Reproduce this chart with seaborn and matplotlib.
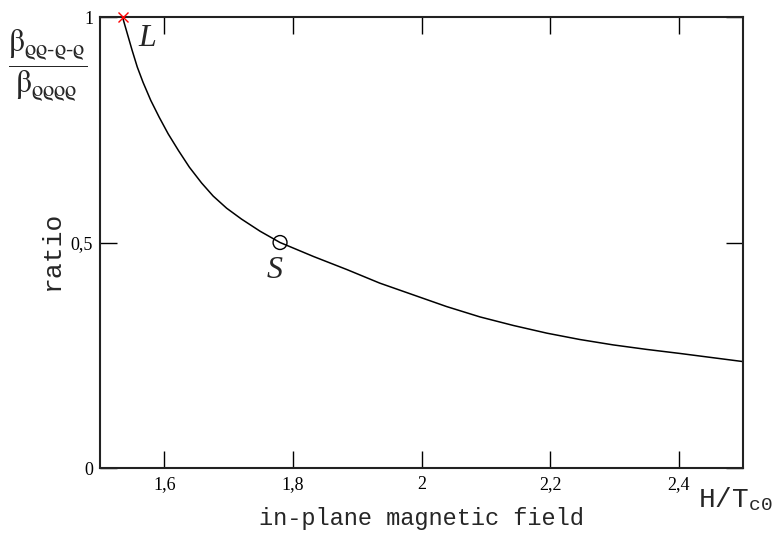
import numpy as np
import pandas as pd
import seaborn as sns
import matplotlib.pyplot as plt
from matplotlib.ticker import FuncFormatter

# values
field = [1.535, 1.5425, 1.550, 1.558, 1.567, 1.579, 1.592, 1.606, 1.622,
         1.639, 1.658, 1.676, 1.697, 1.720, 1.749, 1.780, 1.832, 1.884,
         1.935, 1.987, 2.039, 2.091, 2.143, 2.195, 2.246, 2.298, 2.350,
         2.402, 2.451, 2.500]
ratio = [1.000, 0.963, 0.926, 0.889, 0.855, 0.815, 0.778, 0.741, 0.704,
         0.667, 0.632, 0.603, 0.576, 0.552, 0.525, 0.500, 0.469, 0.440,
         0.410, 0.384, 0.358, 0.335, 0.316, 0.299, 0.285, 0.273, 0.263,
         0.254, 0.245, 0.236]

# special points
point_L = (1.535, 1.0)
point_S = (1.780, 0.5)

x_ticks = [1.6, 1.8, 2.0, 2.2, 2.4]
y_ticks = [0, 0.5, 1]

sns.set_theme(style="ticks")
plt.rcParams['font.family'] = ['Liberation Serif', 'DejaVu Serif']
plt.rcParams['mathtext.fontset'] = 'stix'

fig = plt.figure(figsize=(7.8, 5.35), dpi=100)
ax = fig.add_axes([0.1282, 0.1252, 0.8244, 0.843])

df = pd.DataFrame({'field': field, 'ratio': ratio})
sns.lineplot(data=df, x='field', y='ratio', sort=False, color='black',
             linewidth=1.1, ax=ax)

# S point (open circle) and L point (red cross)
sns.scatterplot(x=[point_S[0]], y=[point_S[1]], marker='o', s=100,
                facecolors='none', edgecolor='black', linewidth=1.0, ax=ax,
                zorder=5)
ax.plot([point_L[0]], [point_L[1]], marker='x', color='red', markersize=7,
        markeredgewidth=1.0, clip_on=False, zorder=6)

ax.text(1.573, 0.953, 'L', fontsize=23, style='italic', ha='center',
        va='center')
ax.text(1.772, 0.437, 'S', fontsize=23, style='italic', ha='center',
        va='center')

ax.set_xlim(1.5, 2.5)
ax.set_ylim(0, 1)
ax.set_xticks(x_ticks)
ax.set_yticks(y_ticks)
fmt = FuncFormatter(lambda v, p: ('%g' % v).replace('.', ','))
ax.xaxis.set_major_formatter(fmt)
ax.yaxis.set_major_formatter(fmt)
ax.tick_params(direction='in', length=12, width=1, top=True, right=True,
               labelsize=13, colors='black')
ax.tick_params(axis='x', pad=6)
ax.tick_params(axis='y', pad=5)
for sp in ax.spines.values():
    sp.set_linewidth(1.5)
    sp.set_color('#222222')

ax.set_xlabel('in-plane magnetic field', family='Liberation Mono',
              fontsize=17)
ax.xaxis.label.set_va('center')
ax.xaxis.set_label_coords(0.5, -0.113)
ax.set_ylabel('ratio', family='Liberation Mono', fontsize=19)
ax.yaxis.label.set_va('center')
ax.yaxis.set_label_coords(-0.075, 0.483)

fig.text(0.895, 0.052, r'H/T$_{\mathregular{c0}}$', family='Liberation Mono',
         fontsize=20, ha='left', va='baseline')
fig.text(0.061, 0.877,
         r'$\dfrac{\mathrm{\beta}_{\mathrm{\varrho\varrho\text{-}\varrho\text{-}\varrho}}}'
         r'{\mathrm{\beta}_{\mathrm{\varrho\varrho\varrho\varrho}}}$',
         fontsize=23, ha='center', va='center')

fig.savefig('out.png', dpi=100)
